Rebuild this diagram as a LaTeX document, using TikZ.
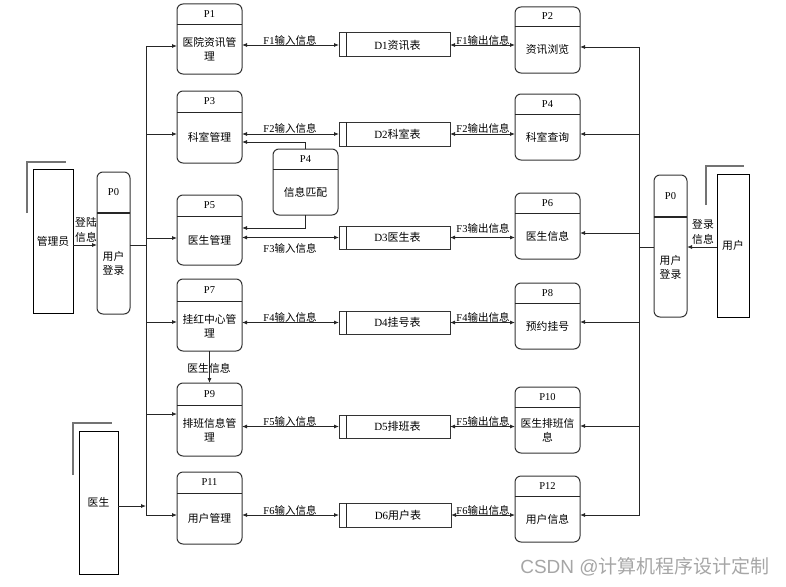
\documentclass[tikz,border=0pt]{standalone}
\usepackage{fontspec}
\setmainfont{Liberation Serif}
\newfontfamily\cjk{Noto Sans CJK SC}
\newfontfamily\wmfont{Liberation Sans}
\usetikzlibrary{arrows.meta}

\newcommand\ProcNode[8]{%
  \node[procbox, minimum width={(#4)-(#2)}, minimum height={(#5)-(#3)}] (#1) at ({((#2)+(#4))/2},{((#3)+(#5))/2}) {};
  \draw[hdr] (#1.west |- 0,#6) -- (#1.east |- 0,#6);
  \node[latt] at ({((#2)+(#4))/2},{((#3)+(#6))/2}) {#7};
  \node[cjkt, align=center, inner sep=0pt] at ({((#2)+(#4))/2},{((#6)+(#5))/2}) {#8};
}
\newcommand\StoreNode[6]{%
  \node[storebox, minimum width={(#4)-(#2)}, minimum height={(#5)-(#3)}] (#1) at ({((#2)+(#4))/2},{((#3)+(#5))/2}) {};
  \draw[line] ({(#2)+7},#3) -- ({(#2)+7},#5);
  \node[latt, font=\fontsize{11}{13}\selectfont] at ({((#2)+(#4))/2+3},{((#3)+(#5))/2}) {#6};
}

\begin{document}
\begin{tikzpicture}[x=1pt,y=-1pt,
  line/.style={draw=black!85, line width=0.8pt},
  arr/.style={line, -{Latex[length=5pt,width=4pt]}},
  biarr/.style={line, {Latex[length=5pt,width=4pt]}-{Latex[length=5pt,width=4pt]}},
  procbox/.style={draw=black!80, line width=1pt, rounded corners=6pt, inner sep=0pt, outer sep=0pt},
  storebox/.style={draw=black!80, line width=1pt, inner sep=0pt, outer sep=0pt},
  entbox/.style={draw=black, line width=0.8pt, inner sep=0pt, outer sep=0pt, font=\cjk\fontsize{10.8}{14}\selectfont},
  hdr/.style={draw=black!85, line width=0.9pt},
  shadowline/.style={draw=black!55, line width=1.3pt},
  latt/.style={font=\fontsize{10.5}{13}\selectfont, inner sep=0pt},
  cjkt/.style={font=\cjk\fontsize{10.8}{14}\selectfont},
  lbl/.style={font=\fontsize{10.5}{13}\selectfont, inner sep=0pt},
]
\useasboundingbox (0,0) rectangle (786,586);

% processes
\ProcNode{p1}{177}{4}{242}{74}{24}{P1}{医院资讯管\\理}
\ProcNode{p2}{515}{7}{580}{73}{26}{P2}{资讯浏览}
\ProcNode{p3}{177}{91}{242}{163}{112}{P3}{科室管理}
\ProcNode{p4m}{273}{149}{338}{215}{169}{P4}{信息匹配}
\ProcNode{p4}{515}{94}{580}{160}{114}{P4}{科室查询}
\ProcNode{p5}{177}{195}{242}{265}{216}{P5}{医生管理}
\ProcNode{p6}{515}{193}{580}{259}{213}{P6}{医生信息}
\ProcNode{p7}{177}{279}{242}{351}{301}{P7}{挂红中心管\\理}
\ProcNode{p8}{515}{283}{580}{349}{303}{P8}{预约挂号}
\ProcNode{p9}{177}{383}{242}{456}{405}{P9}{排班信息管\\理}
\ProcNode{p10}{515}{387}{580}{453}{407}{P10}{医生排班信\\息}
\ProcNode{p11}{177}{472}{242}{544}{493}{P11}{用户管理}
\ProcNode{p12}{515}{476}{580}{542}{496}{P12}{用户信息}

% login processes
\node[procbox, minimum width=33, minimum height=142] (pl0) at (113.5,243) {};
\draw[hdr, line width=1.6pt] (pl0.west |- 0,213) -- (pl0.east |- 0,213);
\node[latt] at (113.5,192) {P0};
\node[cjkt, align=center, inner sep=0pt] at (113.5,263.5) {用户\\登录};
\node[procbox, minimum width=33, minimum height=142] (pr0) at (670.5,246) {};
\draw[hdr, line width=1.6pt] (pr0.west |- 0,217) -- (pr0.east |- 0,217);
\node[latt] at (670.5,196) {P0};
\node[cjkt, align=center, inner sep=0pt] at (670.5,267) {用户\\登录};

% data stores
\StoreNode{d1}{339}{33}{450}{57}{D1{\cjk 资讯表}}
\StoreNode{d2}{339}{122}{450}{146}{D2{\cjk 科室表}}
\StoreNode{d3}{339}{226}{450}{249}{D3{\cjk 医生表}}
\StoreNode{d4}{339}{311}{450}{334}{D4{\cjk 挂号表}}
\StoreNode{d5}{339}{415}{450}{438}{D5{\cjk 排班表}}
\StoreNode{d6}{339}{503}{451}{527}{D6{\cjk 用户表}}

% external entities
\node[entbox, minimum width=40, minimum height=144] (adm) at (53,241) {管理员};
\draw[shadowline] (27,213) -- (27,162) -- (66,162);
\node[entbox, minimum width=32, minimum height=143] (usr) at (733,245.5) {用户};
\draw[shadowline] (706,205) -- (706,166) -- (744,166);
\node[entbox, minimum width=39, minimum height=143] (doc) at (98.5,502.5) {医生};
\draw[shadowline] (73,475) -- (73,423) -- (112,423);

% store connectors
\foreach \pl/\dd/\pr in {p1/d1/p2, p3/d2/p4, p5/d3/p6, p7/d4/p8, p9/d5/p10, p11/d6/p12}{
  \draw[biarr] (\pl.east |- \dd.west) -- (\dd.west);
  \draw[biarr] (\dd.east) -- (\pr.west |- \dd.east);
}
\node[lbl] at (290,40) {F1{\cjk 输入信息}};
\node[lbl] at (483,40) {F1{\cjk 输出信息}};
\node[lbl] at (290,128) {F2{\cjk 输入信息}};
\node[lbl] at (483,128) {F2{\cjk 输出信息}};
\node[lbl] at (290,248) {F3{\cjk 输入信息}};
\node[lbl] at (483,228) {F3{\cjk 输出信息}};
\node[lbl] at (290,317) {F4{\cjk 输入信息}};
\node[lbl] at (483,317) {F4{\cjk 输出信息}};
\node[lbl] at (290,421) {F5{\cjk 输入信息}};
\node[lbl] at (483,421) {F5{\cjk 输出信息}};
\node[lbl] at (290,510) {F6{\cjk 输入信息}};
\node[lbl] at (483,510) {F6{\cjk 输出信息}};

% P4 matching
\draw[arr] (p4m.north) |- ([yshift=-15pt]p3.east);
\draw[arr] (p4m.south) |- ([yshift=2pt]p5.east);

% P7 -> P9
\draw[arr] (p7.south) -- (p9.north);
\node[cjkt, inner sep=0pt] at (209,368) {医生信息};

% left bus
\coordinate (lbt) at (146,46);
\coordinate (lbb) at (146,515);
\draw[line] (lbt) -- (lbb);
\foreach \yy/\nn in {46/p1,134/p3,238/p5,322/p7,414/p9,515/p11}
  \draw[arr] (146,\yy) -- (\nn.west |- 0,\yy);
\draw[line] (pl0.east |- 0,245) -- (146,245);
\draw[arr] (adm.east |- 0,245) -- (pl0.west |- 0,245);
\node[cjkt, align=center, inner sep=0pt, font=\cjk\fontsize{10.8}{15}\selectfont] at (86,229.5) {登陆\\信息};
\draw[arr] (doc.east |- 0,506) -- (146,506);

% right bus
\coordinate (rbt) at (639,47);
\coordinate (rbb) at (639,516);
\draw[line] (rbt) -- (rbb);
\foreach \yy/\nn in {47/p2,134/p4,233/p6,322/p8,426/p10,515/p12}
  \draw[arr] (639,\yy) -- (\nn.east |- 0,\yy);
\draw[line] (pr0.west |- 0,247) -- (639,247);
\draw[arr] (usr.west |- 0,247) -- (pr0.east |- 0,247);
\node[cjkt, align=center, inner sep=0pt, font=\cjk\fontsize{10.8}{15}\selectfont] at (703,231.5) {登录\\信息};

% watermark
\node[text=black!35, inner sep=0pt, font=\wmfont\fontsize{19}{22}\selectfont] at (645,567) {CSDN @{\cjk 计算机程序设计定制}};
\end{tikzpicture}
\end{document}
